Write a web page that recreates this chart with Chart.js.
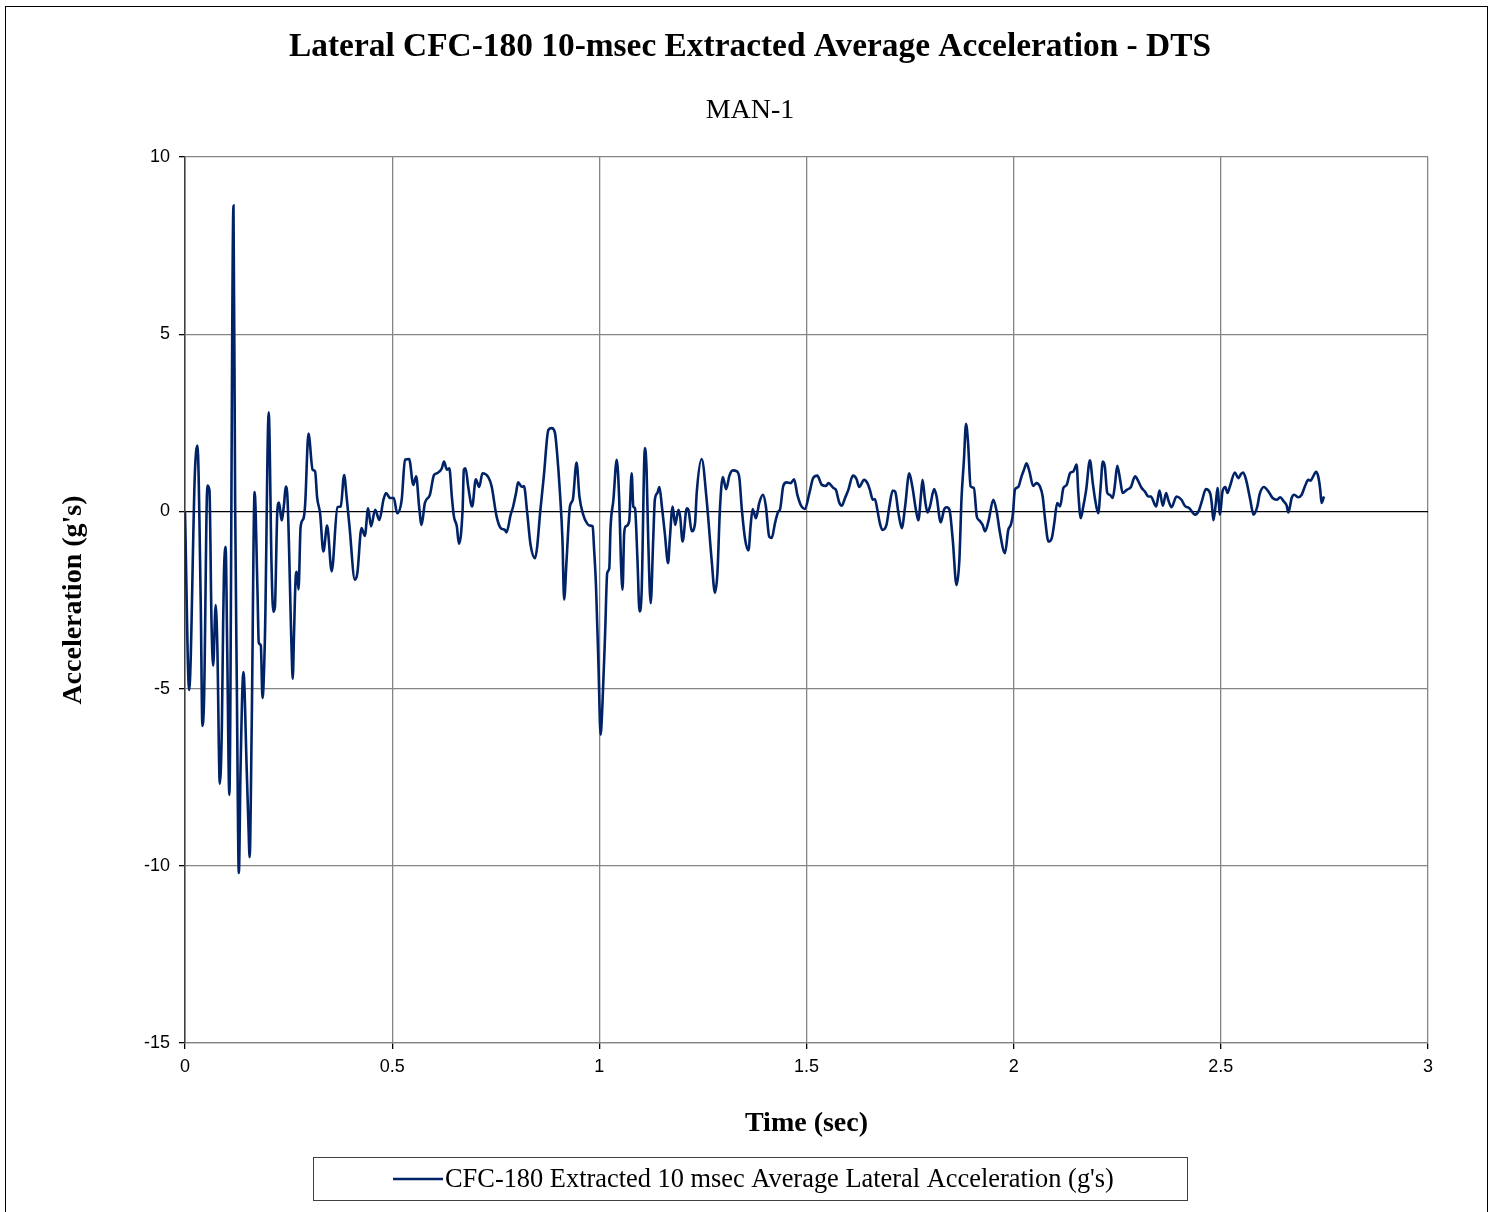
<!DOCTYPE html>
<html lang="en">

<head>
    <meta charset="UTF-8">
    <script src="https://cdn.jsdelivr.net/npm/chart.js"></script>
    <title>Lateral CFC-180 10-msec Extracted Average Acceleration - DTS</title>
    <style>
        html, body { margin: 0; padding: 0; background: #fff; }
        canvas { display: block; }
    </style>
</head>

<body>
    <canvas id="chartAccel" width="1491" height="1212"></canvas>
</body>

</html>

<script>
    // textos do grafico
    const chartTitle = 'Lateral CFC-180 10-msec Extracted Average Acceleration - DTS';
    const chartSubtitle = 'MAN-1';
    const xTitle = 'Time (sec)';
    const yTitle = "Acceleration (g's)";
    const seriesName = "CFC-180 Extracted 10 msec Average Lateral Acceleration (g's)";

    // eixos
    const xTicks = [0, 0.5, 1, 1.5, 2, 2.5, 3];
    const yTicks = [-15, -10, -5, 0, 5, 10];

    // serie: tempo (s) e aceleracao (g)
    const timeSec = [
        0.000, 0.010, 0.024, 0.030, 0.038, 0.042, 0.046, 0.054, 0.059, 0.064,
        0.068, 0.074, 0.078, 0.084, 0.089, 0.092, 0.094, 0.098, 0.102, 0.107,
        0.117, 0.121, 0.125, 0.130, 0.134, 0.141, 0.149, 0.153, 0.156, 0.161,
        0.168, 0.175, 0.178, 0.183, 0.187, 0.193, 0.202, 0.209, 0.213, 0.217,
        0.223, 0.227, 0.233, 0.239, 0.243, 0.247, 0.257, 0.260, 0.263, 0.267,
        0.270, 0.274, 0.279, 0.286, 0.290, 0.298, 0.308, 0.314, 0.319, 0.326,
        0.334, 0.343, 0.354, 0.368, 0.376, 0.384, 0.390, 0.397, 0.410, 0.416,
        0.426, 0.434, 0.442, 0.449, 0.459, 0.469, 0.479, 0.485, 0.495, 0.504,
        0.512, 0.523, 0.531, 0.541, 0.551, 0.558, 0.565, 0.571, 0.579, 0.591,
        0.601, 0.609, 0.620, 0.625, 0.632, 0.638, 0.644, 0.649, 0.656, 0.661,
        0.670, 0.673, 0.677, 0.684, 0.693, 0.702, 0.710, 0.718, 0.732, 0.740,
        0.752, 0.762, 0.772, 0.776, 0.786, 0.792, 0.799, 0.804, 0.813, 0.818,
        0.826, 0.834, 0.845, 0.850, 0.857, 0.866, 0.877, 0.885, 0.893, 0.898,
        0.905, 0.911, 0.915, 0.921, 0.929, 0.936, 0.945, 0.952, 0.961, 0.970,
        0.977, 0.984, 0.987, 0.992, 0.998, 1.003, 1.008, 1.014, 1.019, 1.024,
        1.027, 1.034, 1.042, 1.048, 1.052, 1.056, 1.060, 1.064, 1.072, 1.078,
        1.082, 1.086, 1.092, 1.097, 1.102, 1.110, 1.114, 1.118, 1.124, 1.130,
        1.134, 1.140, 1.145, 1.151, 1.158, 1.166, 1.170, 1.177, 1.183, 1.191,
        1.195, 1.201, 1.211, 1.215, 1.223, 1.231, 1.235, 1.247, 1.259, 1.271,
        1.279, 1.285, 1.291, 1.298, 1.306, 1.314, 1.322, 1.332, 1.338, 1.344,
        1.352, 1.360, 1.365, 1.370, 1.378, 1.386, 1.395, 1.402, 1.410, 1.416,
        1.424, 1.432, 1.436, 1.444, 1.452, 1.462, 1.470, 1.478, 1.488, 1.496,
        1.507, 1.516, 1.526, 1.537, 1.547, 1.553, 1.565, 1.571, 1.579, 1.585,
        1.593, 1.601, 1.612, 1.621, 1.627, 1.639, 1.647, 1.653, 1.660, 1.665,
        1.671, 1.677, 1.683, 1.693, 1.700, 1.708, 1.714, 1.722, 1.730, 1.738,
        1.748, 1.756, 1.764, 1.770, 1.776, 1.780, 1.786, 1.792, 1.798, 1.808,
        1.814, 1.824, 1.832, 1.838, 1.845, 1.853, 1.862, 1.869, 1.874, 1.880,
        1.885, 1.890, 1.896, 1.904, 1.911, 1.917, 1.925, 1.931, 1.939, 1.951,
        1.959, 1.967, 1.979, 1.987, 1.993, 1.998, 2.003, 2.011, 2.019, 2.025,
        2.031, 2.038, 2.047, 2.055, 2.064, 2.070, 2.076, 2.084, 2.092, 2.098,
        2.105, 2.112, 2.120, 2.128, 2.136, 2.144, 2.152, 2.156, 2.162, 2.168,
        2.175, 2.184, 2.191, 2.196, 2.204, 2.210, 2.215, 2.220, 2.226, 2.232,
        2.239, 2.244, 2.250, 2.257, 2.263, 2.273, 2.283, 2.293, 2.301, 2.309,
        2.317, 2.325, 2.331, 2.344, 2.352, 2.360, 2.368, 2.373, 2.381, 2.393,
        2.405, 2.413, 2.424, 2.438, 2.446, 2.454, 2.464, 2.474, 2.478, 2.482,
        2.488, 2.492, 2.498, 2.504, 2.511, 2.516, 2.522, 2.534, 2.542, 2.549,
        2.554, 2.561, 2.571, 2.579, 2.588, 2.594, 2.604, 2.615, 2.625, 2.635,
        2.643, 2.652, 2.659, 2.663, 2.671, 2.677, 2.687, 2.695, 2.703, 2.711,
        2.717, 2.722, 2.730, 2.735, 2.740, 2.743, 2.749
    ];
    const accelG = [
        0.00, -5.04, 1.13, 1.86, -2.60, -6.05, -5.30, 0.73, 0.60, -3.15,
        -4.35, -2.64, -3.78, -7.68, -6.05, -3.20, -1.76, -1.00, -4.00, -8.00,
        8.63, 0.25, -4.80, -10.20, -7.30, -4.53, -7.30, -8.80, -9.76, -6.05,
        0.55, -2.27, -3.70, -3.78, -5.26, -3.50, 2.80, -1.60, -2.83, -2.70,
        0.06, 0.25, -0.25, 0.20, 0.70, 0.45, -3.78, -4.72, -3.50, -1.90,
        -1.70, -2.20, -0.44, -0.20, 0.20, 2.20, 1.18, 1.13, 0.38, -0.05,
        -1.13, -0.40, -1.69, 0.12, 0.14, 1.03, 0.42, -0.42, -1.93, -1.74,
        -0.47, -0.69, 0.09, -0.42, 0.05, -0.24, 0.33, 0.52, 0.38, 0.38,
        -0.05, 0.33, 1.46, 1.48, 0.75, 0.99, 0.14, -0.38, 0.24, 0.47,
        1.03, 1.08, 1.22, 1.41, 1.18, 1.22, 0.42, -0.14, -0.42, -0.91,
        0.05, 1.18, 1.22, 0.66, 0.14, 0.91, 0.69, 1.08, 0.97, 0.71,
        -0.14, -0.47, -0.52, -0.59, -0.09, 0.14, 0.52, 0.82, 0.69, 0.72,
        -0.05, -0.94, -1.32, -0.99, -0.05, 0.99, 2.30, 2.35, 2.21, 1.65,
        0.52, -0.80, -2.49, -1.36, 0.14, 0.33, 1.38, 0.42, -0.09, -0.33,
        -0.40, -0.42, -0.99, -2.12, -4.37, -6.30, -5.30, -3.43, -1.74, -1.60,
        -0.47, 0.33, 1.46, 0.33, -1.36, -2.21, -0.61, -0.42, -0.28, 1.08,
        0.14, 0.09, -1.36, -2.82, -2.30, 1.79, 1.18, -0.80, -2.59, -0.80,
        0.33, 0.52, 0.69, 0.14, -0.61, -1.46, -0.80, 0.14, -0.38, 0.05,
        -0.14, -0.85, 0.09, 0.05, -0.56, -0.33, 0.52, 1.48, 0.33, -1.36,
        -2.29, -1.74, 0.05, 0.97, 0.63, 1.01, 1.16, 1.13, 0.94, 0.05,
        -0.80, -1.10, -0.42, 0.07, -0.19, 0.24, 0.47, 0.14, -0.71, -0.75,
        -0.33, 0.00, 0.05, 0.72, 0.82, 0.80, 0.91, 0.47, 0.14, 0.07,
        0.52, 0.94, 1.01, 0.75, 0.72, 0.80, 0.66, 0.61, 0.25, 0.16,
        0.38, 0.61, 1.01, 0.91, 0.69, 0.89, 0.80, 0.61, 0.33, 0.35,
        0.05, -0.33, -0.52, -0.38, 0.14, 0.59, 0.56, -0.05, -0.47, 0.14,
        1.08, 0.66, 0.05, -0.25, 0.42, 0.89, 0.33, -0.03, 0.14, 0.63,
        0.42, -0.31, 0.05, 0.12, 0.05, -0.80, -2.08, -1.36, 0.33, 1.46,
        2.47, 1.93, 0.71, 0.66, -0.14, -0.25, -0.38, -0.56, -0.28, 0.33,
        0.00, -0.61, -1.18, -0.52, -0.38, -0.09, 0.61, 0.69, 0.99, 1.18,
        1.36, 1.13, 0.72, 0.80, 0.69, 0.42, -0.24, -0.85, -0.75, -0.33,
        0.24, 0.14, 0.66, 0.75, 1.08, 1.13, 1.32, 0.52, -0.19, 0.14,
        0.61, 1.44, 0.80, 0.38, -0.05, 0.71, 1.41, 1.27, 0.52, 0.47,
        0.38, 0.71, 1.29, 0.89, 0.52, 0.61, 0.69, 0.99, 0.85, 0.66,
        0.56, 0.42, 0.42, 0.14, 0.59, 0.16, 0.52, 0.33, 0.12, 0.42,
        0.33, 0.16, 0.09, -0.09, 0.00, 0.28, 0.63, 0.52, 0.24, -0.25,
        0.24, 0.66, -0.09, 0.56, 0.69, 0.52, 0.71, 1.10, 0.94, 1.06,
        1.10, 0.89, 0.33, -0.09, 0.14, 0.50, 0.69, 0.56, 0.38, 0.33,
        0.40, 0.28, 0.16, -0.03, 0.38, 0.47, 0.40, 0.47, 0.71, 0.89,
        0.87, 0.97, 1.12, 0.99, 0.61, 0.24, 0.42
    ];

    const lineColor = 'rgb(0, 34, 102)';
    const serif = "'Liberation Serif', 'Times New Roman', serif";
    const sans = "'Liberation Sans', Arial, sans-serif";

    // moldura externa e legenda em caixa (estilo Excel)
    const frameAndLegend = {
        id: 'frameAndLegend',
        afterDraw(chart) {
            const ctx = chart.ctx;
            ctx.save();
            ctx.strokeStyle = '#000';
            ctx.lineWidth = 1;
            ctx.strokeRect(5.5, 6.5, 1482, 1210);

            // caixa da legenda
            ctx.strokeStyle = '#404040';
            ctx.strokeRect(313.5, 1157.5, 874, 43);
            ctx.strokeStyle = lineColor;
            ctx.lineWidth = 2.5;
            ctx.beginPath();
            ctx.moveTo(393, 1179);
            ctx.lineTo(443, 1179);
            ctx.stroke();
            ctx.fillStyle = '#000';
            ctx.font = '26.4px ' + serif;
            ctx.textBaseline = 'middle';
            ctx.textAlign = 'left';
            ctx.fillText(seriesName, 445, 1180);
            ctx.restore();
        }
    };

    const points = timeSec.map((t, i) => ({ x: t, y: accelG[i] }));

    var ctx = document.getElementById('chartAccel').getContext('2d');
    var chartAccel = new Chart(ctx, {
        type: 'scatter',
        data: {
            datasets: [{
                label: seriesName,
                data: points,
                showLine: true,
                borderColor: lineColor,
                backgroundColor: lineColor,
                borderWidth: 2.6,
                pointRadius: 0,
                cubicInterpolationMode: 'monotone'
            }]
        },
        options: {
            responsive: false,
            devicePixelRatio: 1,
            animation: false,
            layout: {
                padding: { top: 0, left: 36, right: 27, bottom: 0 }
            },
            plugins: {
                legend: { display: false },
                tooltip: { enabled: false },
                title: {
                    display: true,
                    text: chartTitle,
                    color: '#000',
                    font: { family: serif, size: 33.4, weight: 'bold' },
                    padding: { top: 27.8, bottom: 7.3 }
                },
                subtitle: {
                    display: true,
                    text: chartSubtitle,
                    color: '#000',
                    font: { family: serif, size: 28, weight: 'normal' },
                    padding: { top: 18.5, bottom: 29.8 }
                }
            },
            scales: {
                x: {
                    type: 'linear',
                    min: 0,
                    max: 3,
                    afterFit: (scale) => { scale.height = 169; },
                    afterBuildTicks: (scale) => { scale.ticks = xTicks.map(v => ({ value: v })); },
                    ticks: {
                        color: '#000',
                        font: { family: sans, size: 18 },
                        padding: 7,
                        maxRotation: 0,
                        callback: (v) => String(v)
                    },
                    grid: {
                        color: '#858585',
                        lineWidth: 1.3,
                        tickLength: 6,
                        tickColor: '#000'
                    },
                    border: { color: '#858585', width: 1.3 },
                    title: {
                        display: true,
                        text: xTitle,
                        color: '#000',
                        font: { family: serif, size: 28, weight: 'bold' },
                        padding: { top: 0, bottom: 71 }
                    }
                },
                y: {
                    type: 'linear',
                    min: -15,
                    max: 10,
                    afterFit: (scale) => { scale.width = 149; },
                    afterBuildTicks: (scale) => { scale.ticks = yTicks.map(v => ({ value: v })); },
                    ticks: {
                        color: '#000',
                        font: { family: sans, size: 18 },
                        padding: 9,
                        callback: (v) => String(v)
                    },
                    grid: {
                        color: (c) => (c.tick && c.tick.value === 0 ? '#000' : '#858585'),
                        lineWidth: 1.3,
                        tickLength: 6,
                        tickColor: '#000'
                    },
                    border: { color: '#404040', width: 1.5 },
                    title: {
                        display: true,
                        text: yTitle,
                        color: '#000',
                        font: { family: serif, size: 28, weight: 'bold' },
                        padding: { top: 21, bottom: 0 }
                    }
                },
                // espaco vazio a direita do grafico (como no Excel)
                yRight: {
                    type: 'linear',
                    position: 'right',
                    display: true,
                    afterFit: (scale) => { scale.width = 36; },
                    ticks: { display: false },
                    grid: { display: false, drawTicks: false },
                    border: { display: false }
                }
            }
        },
        plugins: [frameAndLegend]
    });
</script>
